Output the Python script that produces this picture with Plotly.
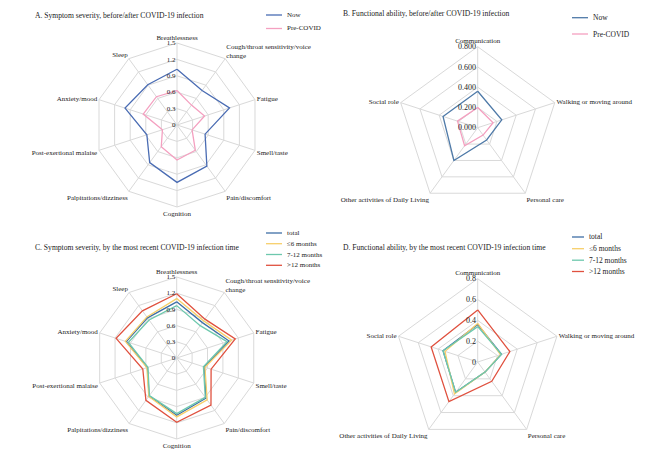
import plotly.graph_objects as go

W, H = 650, 454

symptoms = ["Breathlessness", "Cough/throat sensitivity/voice<br>change", "Fatigue", "Smell/taste",
            "Pain/discomfort", "Cognition", "Palpitations/dizziness", "Post-exertional malaise",
            "Anxiety/mood", "Sleep"]
functions = ["Communication", "Walking or moving around", "Personal care",
             "Other activities of Daily Living", "Social role"]

# Panel A
a_now = [1.02, 0.78, 1.01, 0.54, 0.93, 1.05, 0.85, 0.58, 1.00, 0.91]
a_pre = [0.63, 0.45, 0.53, 0.29, 0.57, 0.64, 0.49, 0.28, 0.65, 0.64]
# Panel B
b_now = [0.36, 0.25, 0.15, 0.40, 0.36]
b_pre = [0.20, 0.16, 0.09, 0.22, 0.21]
# Panel C
c_total = [1.04, 0.81, 1.02, 0.54, 0.92, 1.06, 0.87, 0.57, 0.98, 0.92]
c_le6 = [1.10, 0.85, 1.07, 0.55, 0.96, 1.09, 0.88, 0.58, 1.00, 0.94]
c_7_12 = [0.97, 0.74, 0.98, 0.52, 0.90, 1.03, 0.86, 0.56, 0.94, 0.87]
c_gt12 = [1.19, 0.89, 1.14, 0.67, 1.08, 1.19, 0.97, 0.66, 1.18, 1.08]
# Panel D
d_total = [0.36, 0.24, 0.12, 0.36, 0.35]
d_le6 = [0.37, 0.23, 0.12, 0.38, 0.33]
d_7_12 = [0.34, 0.24, 0.12, 0.36, 0.35]
d_gt12 = [0.50, 0.325, 0.23, 0.47, 0.47]

sym_ticks = [0, 0.3, 0.6, 0.9, 1.2, 1.5]
fun_ticks_b = [0, 0.2, 0.4, 0.6, 0.8]
fun_ticks_d = [0, 0.2, 0.4, 0.6, 0.8]

BLUE = "#4a6cb3"
BLUE_B = "#4f7aa8"
PINK = "#f4a0c0"
TOTAL = "#3f6fa6"
YEL = "#f7cf6a"
GRN = "#6dc8ad"
RED = "#e0513f"
GRID = "#d9d9d9"
FONT = "Liberation Serif"
TXT = "#222222"

fig = go.Figure()

def closed(v):
    return list(v) + [v[0]]

def add(r, theta, color, name, polar):
    fig.add_trace(go.Scatterpolar(r=closed(r), theta=closed(theta), mode="lines",
                                  line=dict(color=color, width=1.3), name=name,
                                  subplot=polar, showlegend=False, hoverinfo="skip"))

add(a_now, symptoms, BLUE, "Now", "polar")
add(a_pre, symptoms, PINK, "Pre-COVID", "polar")
add(b_now, functions, BLUE_B, "Now", "polar2")
add(b_pre, functions, PINK, "Pre-COVID", "polar2")
for vals, col, nm in [(c_total, TOTAL, "total"), (c_le6, YEL, "≤6 months"),
                      (c_7_12, GRN, "7-12 months"), (c_gt12, RED, ">12 months")]:
    add(vals, symptoms, col, nm, "polar3")
for vals, col, nm in [(d_total, TOTAL, "total"), (d_le6, YEL, "≤6 months"),
                      (d_7_12, GRN, "7-12 months"), (d_gt12, RED, ">12 months")]:
    add(vals, functions, col, nm, "polar4")

def sq_domain(cx, cy, R):
    return dict(x=[(cx - R) / W, (cx + R) / W], y=[1 - (cy + R) / H, 1 - (cy - R) / H])

def polar(cx, cy, R, rng, ticks, fmt, tsize):
    return dict(
        domain=sq_domain(cx, cy, R),
        gridshape="linear",
        bgcolor="white",
        radialaxis=dict(range=rng, tickvals=ticks, tickformat=fmt, angle=90, tickangle=90,
                        side="counterclockwise", showline=False, ticks="", color=TXT,
                        gridcolor=GRID, gridwidth=1,
                        tickfont=dict(family=FONT, size=tsize, color=TXT)),
        angularaxis=dict(rotation=90, direction="clockwise", gridcolor=GRID, gridwidth=1,
                         linecolor=GRID, linewidth=1, showline=True, ticks="", color=TXT,
                         tickfont=dict(family=FONT, size=7, color=TXT)),
    )

fig.update_layout(
    width=W, height=H, margin=dict(l=0, r=0, t=0, b=0),
    paper_bgcolor="white", plot_bgcolor="white", showlegend=False,
    font=dict(family=FONT, color=TXT),
    polar=polar(177, 125, 82, [0, 1.5], sym_ticks, "", 7),
    polar2=polar(477.7, 127.7, 81, [0, 0.8], fun_ticks_b, ".3f", 8),
    polar3=polar(176.7, 358, 81, [0, 1.5], sym_ticks, "", 7),
    polar4=polar(477.7, 362, 83.3, [0, 0.8], fun_ticks_d, "", 8),
)

anns = []
shapes = []

def title(text, x, y, size=7.6):
    anns.append(dict(text=text, x=x / W, y=1 - y / H, xref="paper", yref="paper",
                     xanchor="left", yanchor="middle", showarrow=False,
                     font=dict(family=FONT, size=size, color=TXT)))

title("A. Symptom severity, before/after COVID-19 infection", 33, 15)
title("B. Functional ability, before/after COVID-19 infection", 341, 13.5)
title("C. Symptom severity, by the most recent COVID-19 infection time", 33, 247)
title("D. Functional ability, by the most recent COVID-19 infection time", 341, 247)

def legend(items, x0, x1, ys, size):
    for (nm, col), y in zip(items, ys):
        shapes.append(dict(type="line", xref="paper", yref="paper",
                           x0=x0 / W, x1=x1 / W, y0=1 - y / H, y1=1 - y / H,
                           line=dict(color=col, width=1.3)))
        anns.append(dict(text=nm, x=(x1 + 3) / W, y=1 - y / H, xref="paper", yref="paper",
                         xanchor="left", yanchor="middle", showarrow=False,
                         font=dict(family=FONT, size=size, color=TXT)))

legend([("Now", BLUE), ("Pre-COVID", PINK)], 266, 282, [15, 28.5], 7)
legend([("Now", BLUE_B), ("Pre-COVID", PINK)], 572, 588, [17.7, 34], 7.5)
four = [("total", TOTAL), ("≤6 months", YEL), ("7-12 months", GRN), (">12 months", RED)]
legend(four, 266, 282, [233, 243.7, 254.5, 265.3], 7)
legend(four, 572, 584, [237, 248.7, 260.2, 271.5], 7.5)

fig.update_layout(annotations=anns, shapes=shapes)
fig.write_html("out.html")
